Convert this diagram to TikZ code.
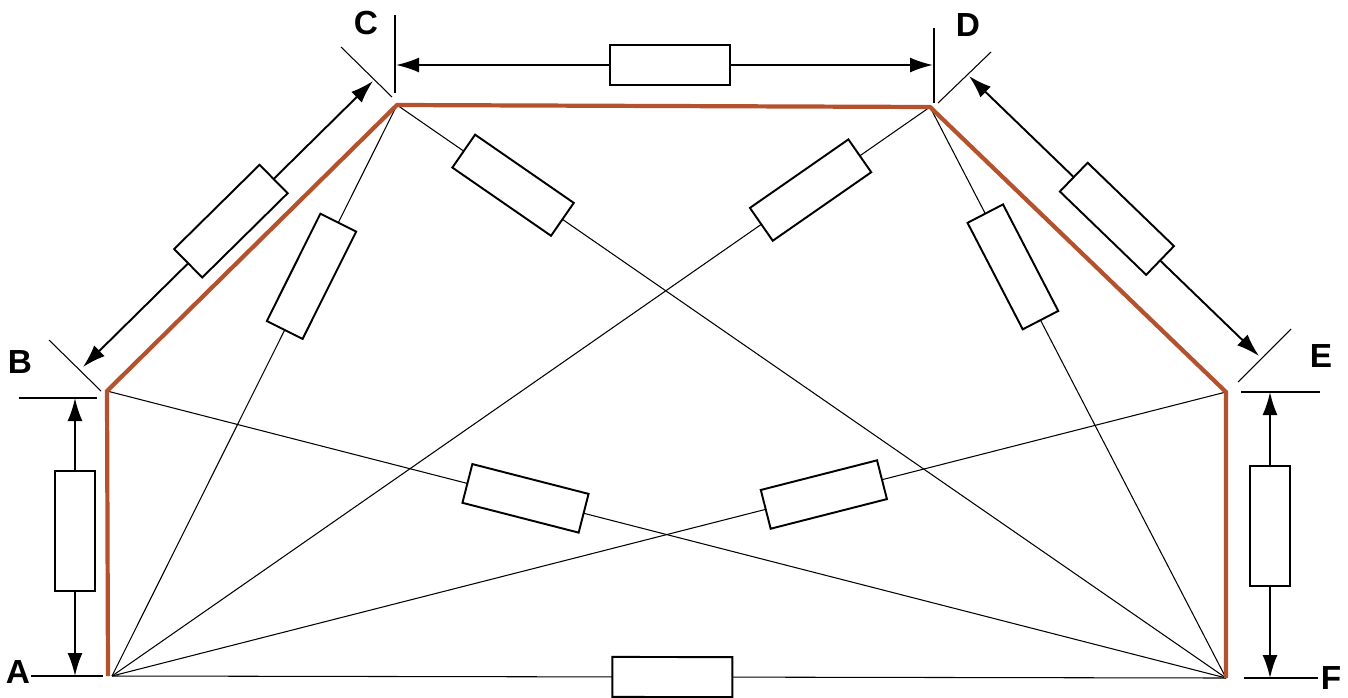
\documentclass[tikz,border=0pt]{standalone}
\usepackage{fontspec}
\setmainfont{Liberation Sans}
\usetikzlibrary{arrows.meta}
\definecolor{pathred}{RGB}{180,82,46}
\tikzset{
wire/.style={line width=0.6pt}, % thin lines between the corners
ext/.style={line width=0.6pt}, % extension lines of the dimensions
red-path/.style={draw=pathred, line width=2.4pt},
res/.style={draw, fill=white, line width=1.1pt, sloped, minimum width=2.4cm, minimum height=0.8cm, inner sep=0pt},
dim/.style={{Latex[length=0.46cm,width=0.3cm]}-{Latex[length=0.46cm,width=0.3cm]}, line width=1.1pt},
lbl/.style={font=\fontsize{19}{21}\selectfont\bfseries},
}

\begin{document}
\begin{tikzpicture}[x=0.02cm, y=-0.02cm]
        \useasboundingbox (0,0) rectangle (1348,697);

        % corners
        \coordinate (A) at (112,676);
        \coordinate (B) at (107,391);
        \coordinate (C) at (397,105);
        \coordinate (D) at (930,107);
        \coordinate (E) at (1226,392);
        \coordinate (F) at (1226,678);

        \node[lbl] (label-a) at (18,672) {A};
        \node[lbl] (label-b) at (20,362) {B};
        \node[lbl] (label-c) at (366,23) {C};
        \node[lbl] (label-d) at (968,25) {D};
        \node[lbl] (label-e) at (1321,356) {E};
        \node[lbl] (label-f) at (1331,678) {F};

        % diagonals
        \draw[wire] (A) -- node[res, pos=0.70]{} (C);
        \draw[wire] (A) -- node[res, pos=0.854]{} (D);
        \draw[wire] (A) -- node[res, pos=0.639]{} (E);
        \draw[wire] (A) -- node[res, pos=0.503]{} (F);
        \draw[wire] (B) -- node[res, pos=0.374]{} (F);
        \draw[wire] (C) -- node[res, pos=0.14]{} (F);
        \draw[wire] (D) -- node[res, pos=0.28]{} (F);

        \draw[red-path] (108,676) -- (B) -- (C) -- (D) -- (E) -- (F);

        % extension lines
        \coordinate (a-ext1) at (31,676);   \coordinate (a-ext2) at (103,676);
        \coordinate (b-ext1) at (19,398);   \coordinate (b-ext2) at (97,398);
        \coordinate (b-tick1) at (49,340);  \coordinate (b-tick2) at (101,391);
        \coordinate (c-tick1) at (341,47);  \coordinate (c-tick2) at (392,97);
        \coordinate (c-ext1) at (395,15);   \coordinate (c-ext2) at (395,93);
        \coordinate (d-ext1) at (934,28);   \coordinate (d-ext2) at (934,103);
        \coordinate (d-tick1) at (938,103); \coordinate (d-tick2) at (991,52);
        \coordinate (e-tick1) at (1238,382);\coordinate (e-tick2) at (1291,329);
        \coordinate (e-ext1) at (1241,392); \coordinate (e-ext2) at (1320,392);
        \coordinate (f-ext1) at (1244,678); \coordinate (f-ext2) at (1318,678);
        \foreach \p in {a-ext, b-ext, b-tick, c-tick, c-ext, d-ext, d-tick, e-tick, e-ext, f-ext}
            \draw[ext] (\p1) -- (\p2);

        % dimensions
        \coordinate (ab-1) at (75,676);   \coordinate (ab-2) at (75,398);
        \coordinate (bc-1) at (83,367);   \coordinate (bc-2) at (373,81);
        \coordinate (cd-1) at (396,65);   \coordinate (cd-2) at (933,65);
        \coordinate (de-1) at (969,76);   \coordinate (de-2) at (1259,356);
        \coordinate (ef-1) at (1270,392); \coordinate (ef-2) at (1270,678);
        \draw[dim] (ab-1) -- node[res, pos=0.52]{} (ab-2);
        \draw[dim] (bc-1) -- node[res, pos=0.51]{} (bc-2);
        \draw[dim] (cd-1) -- node[res, pos=0.51]{} (cd-2);
        \draw[dim] (de-1) -- node[res, pos=0.51]{} (de-2);
        \draw[dim] (ef-1) -- node[res, pos=0.47]{} (ef-2);
    \end{tikzpicture}
\end{document}
